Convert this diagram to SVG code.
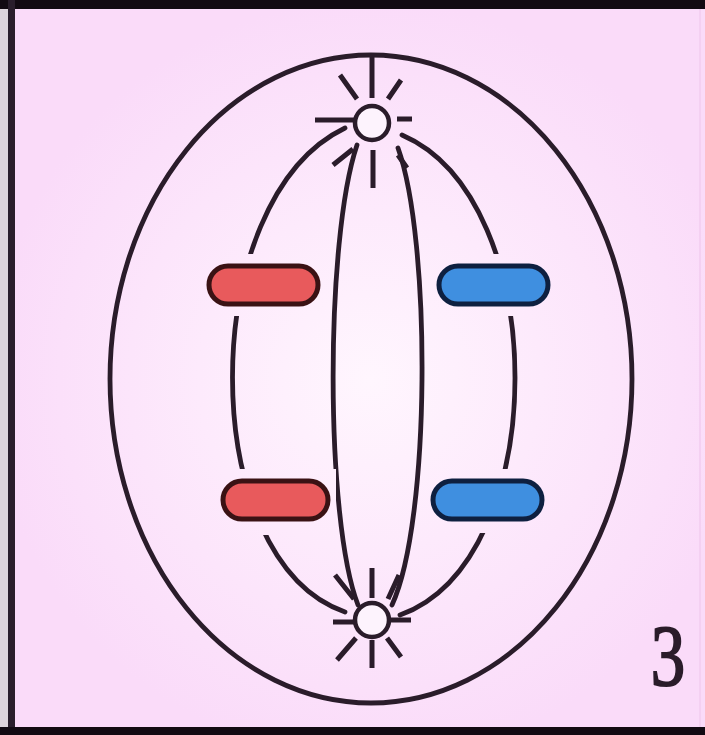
<svg xmlns="http://www.w3.org/2000/svg" width="705" height="735" viewBox="0 0 705 735">
  <defs>
    <radialGradient id="glow" cx="370" cy="380" r="380" gradientUnits="userSpaceOnUse">
      <stop offset="0" stop-color="#fff6fe"/>
      <stop offset="0.45" stop-color="#fdeafc"/>
      <stop offset="1" stop-color="#fadbf9"/>
    </radialGradient>
    <!-- gaps in the spindle fibres where they meet the chromosomes -->
    <mask id="fiberGaps" maskUnits="userSpaceOnUse" x="0" y="0" width="705" height="735">
      <rect x="0" y="0" width="705" height="735" fill="#fff"/>
      <rect x="200" y="254" width="126" height="62" fill="#000"/>
      <rect x="430" y="254" width="126" height="62" fill="#000"/>
      <rect x="214" y="469" width="122" height="66" fill="#000"/>
      <rect x="424" y="469" width="126" height="64" fill="#000"/>
    </mask>
    <style>
      .ln { fill: none; stroke: #2a1c2a; stroke-width: 4.8; stroke-linecap: round; }
      .ray { fill: none; stroke: #2a1c2a; stroke-width: 5; stroke-linecap: butt; }
      .centro { fill: #fdf3fd; stroke: #2a1c2a; stroke-width: 4.5; }
      .red { fill: #e85a5c; stroke: #3a1214; stroke-width: 5; }
      .blue { fill: #3f8fe0; stroke: #0e2040; stroke-width: 5; }
    </style>
  </defs>

  <!-- panel -->
  <rect x="0" y="0" width="705" height="735" fill="#ddd4dc"/>
  <rect x="10" y="5" width="695" height="725" fill="url(#glow)"/>
  <rect x="0" y="0" width="705" height="9" fill="#120a12"/>
  <rect x="8" y="0" width="7" height="735" fill="#2a1e2c"/>
  <rect x="0" y="727" width="705" height="8" fill="#120a12"/>
  <line x1="700" y1="9" x2="700" y2="727" stroke="#f4d0f2" stroke-width="2"/>

  <!-- cell membrane -->
  <g id="cell">
    <ellipse cx="371" cy="379" rx="261" ry="324" class="ln"/>
  </g>

  <!-- spindle fibres -->
  <g id="spindle" mask="url(#fiberGaps)">
    <path class="ln" d="M345,128 C195,200 195,560 345,612"/>
    <path class="ln" d="M402,135 C553,200 553,560 400,615"/>
    <path class="ln" d="M357,145 C325,240 325,520 358,605"/>
    <path class="ln" d="M398,148 C431,240 431,520 392,605"/>
  </g>

  <!-- upper centrosome -->
  <g id="centrosome-top">
    <path class="ray" d="M372,56 V98 M340,75 L357,99 M401,80 L388,99 M315,120 H354 M397,119 H412 M333,165 L353,149 M373,150 V188 M398,155 L407,168"/>
    <circle cx="372" cy="123" r="17" class="centro"/>
  </g>

  <!-- lower centrosome -->
  <g id="centrosome-bottom">
    <path class="ray" d="M372,568 V598 M335,575 L354,599 M399,575 L388,599 M333,622 H355 M390,620 H411 M337,660 L356,638 M401,657 L387,638 M372,640 V668"/>
    <circle cx="372" cy="620" r="17" class="centro"/>
  </g>

  <!-- chromosomes -->
  <g id="chromosome-red-top"><rect x="209" y="266" width="109" height="38" rx="19" class="red"/></g>
  <g id="chromosome-blue-top"><rect x="439" y="266" width="109" height="38" rx="19" class="blue"/></g>
  <g id="chromosome-red-bottom"><rect x="223" y="481" width="105" height="38" rx="19" class="red"/></g>
  <g id="chromosome-blue-bottom"><rect x="433" y="481" width="109" height="38" rx="19" class="blue"/></g>

  <!-- stage number -->
  <text x="668" y="685" text-anchor="middle" font-family="'Liberation Serif', serif" font-size="86" fill="#2a1c2a" stroke="#2a1c2a" stroke-width="2" transform="translate(668 0) scale(0.8 1) translate(-668 0)">3</text>
</svg>
